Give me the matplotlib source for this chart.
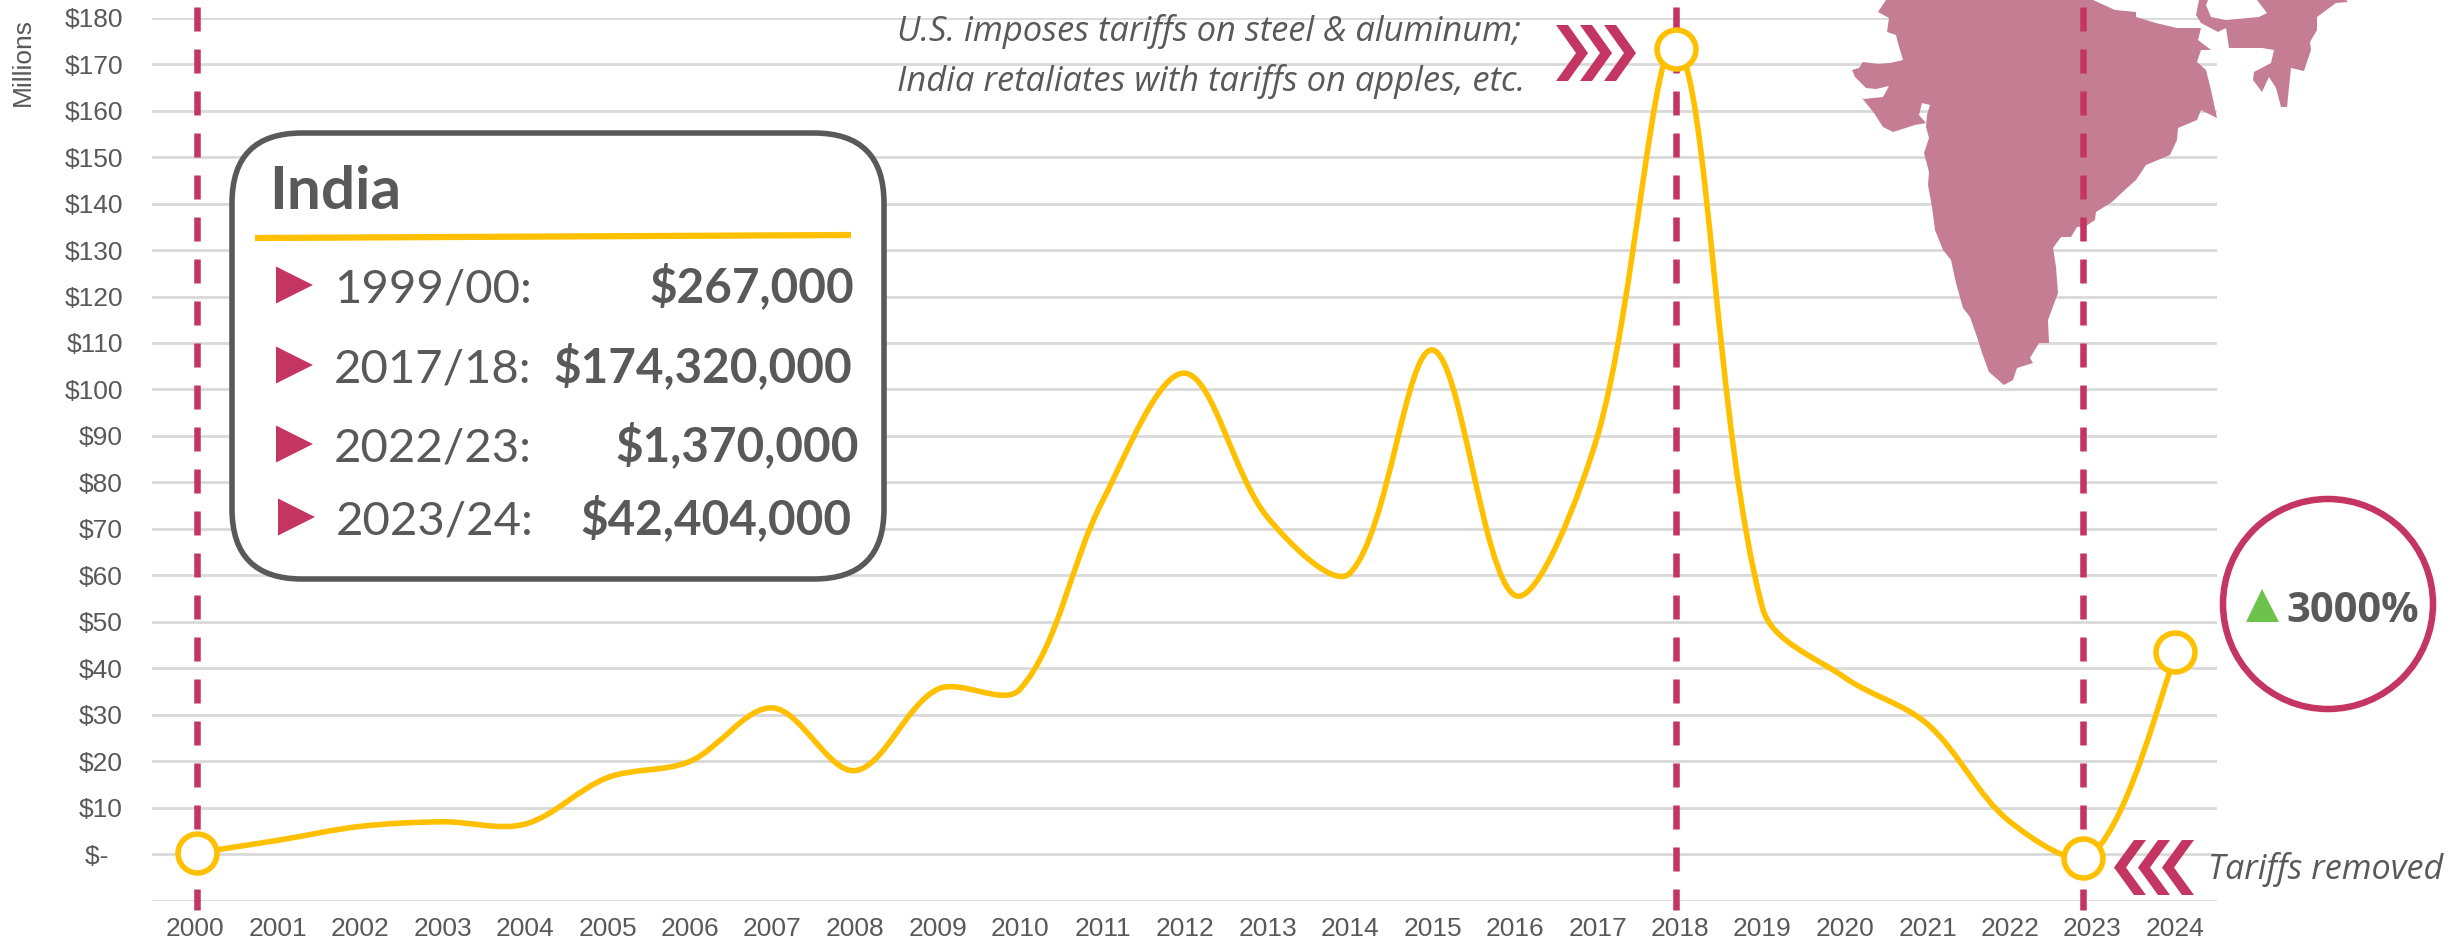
import matplotlib
matplotlib.use('Agg')
from matplotlib import pyplot as plt
from matplotlib.path import Path
from matplotlib.patches import PathPatch, FancyBboxPatch, Polygon, Circle
from matplotlib.transforms import Affine2D

years = list(range(2000, 2025))
line_years = [y if y != 2018 else 2017.96 for y in years]
values = [0.27, 3, 6, 7, 6.5, 16.5, 20, 31.5, 18, 35.5, 35.5, 76, 103.5, 72.5, 60.5, 108.5, 55.7, 90, 174, 53,
          38, 28, 7, 0, 42.4]
y_ticks = list(range(-10, 190, 10))
y_labels = ['', '$-  '] + [f'${v}' for v in range(10, 190, 10)]

marker_years = [2000.03, 2017.95, 2022.885, 2024]
marker_values = [0.2, 173.3, -0.8, 43.5]
event_years = [2000.03, 2017.95, 2022.885]

summary_periods = ['1999/00:', '2017/18:', '2022/23:', '2023/24:']
summary_amounts = ['$267,000', '$174,320,000', '$1,370,000', '$42,404,000']

# in its pixels
india_outline = [(1886, 0), (1878, 12), (1889, 18), (1887, 32), (1896, 35), (1898, 43), (1903, 60), (1890, 63),
                 (1878, 64), (1863, 62), (1859, 68), (1852, 70), (1855, 77), (1866, 88), (1876, 89), (1889, 86),
                 (1883, 97), (1864, 99), (1862, 98), (1874, 113), (1883, 127), (1893, 132), (1915, 125), (1926, 123),
                 (1919, 115), (1922, 103), (1930, 105), (1927, 115), (1926, 127), (1929, 138), (1924, 153), (1929, 172),
                 (1928, 185), (1932, 207), (1935, 230), (1943, 250), (1951, 260), (1956, 283), (1963, 308), (1970, 317),
                 (1977, 337), (1982, 353), (1989, 372), (2004, 385), (2013, 380), (2017, 368), (2033, 363), (2030, 358),
                 (2039, 343), (2049, 343), (2048, 320), (2058, 293), (2056, 267), (2053, 248), (2061, 237), (2071, 237),
                 (2077, 227), (2086, 226), (2095, 220), (2096, 212), (2112, 202), (2127, 188), (2136, 180), (2146, 165),
                 (2170, 155), (2177, 140), (2178, 128), (2197, 120), (2201, 110), (2217, 118), (2211, 90), (2206, 70),
                 (2197, 62), (2201, 50), (2211, 50), (2198, 40), (2201, 28), (2197, 28), (2177, 28), (2156, 23),
                 (2136, 17), (2136, 12), (2115, 10), (2093, 0)]
east_outline = [(2199, 0), (2196, 15), (2201, 23), (2218, 32), (2226, 28), (2229, 48), (2262, 48), (2274, 50),
                (2271, 63), (2254, 72), (2253, 80), (2262, 92), (2269, 77), (2276, 88), (2281, 107), (2287, 107),
                (2291, 68), (2304, 71), (2311, 50), (2310, 42), (2317, 30), (2317, 17), (2336, 3), (2348, 2),
                (2346, 0), (2257, 0), (2267, 13), (2259, 17), (2226, 20), (2211, 17), (2206, 5), (2208, 0)]

GOLD = '#FFC000'
CRIMSON = '#C43562'
MAP = '#C47D93'
GRID = '#D9D9D9'
TEXT = '#595959'
W, H = 2456, 947
DPI = 100


def smooth_path(xs, ys, x_scale, y_scale):
    # bezier handles sized by the on-screen length of each segment, like a spreadsheet's smoothed line
    n = len(xs)
    lengths = [((x_scale * (xs[i + 1] - xs[i])) ** 2 + (y_scale * (ys[i + 1] - ys[i])) ** 2) ** 0.5 for i in range(n - 1)]
    verts = [(xs[0], ys[0])]
    codes = [Path.MOVETO]
    for i in range(n - 1):
        a = max(i - 1, 0)
        d = min(i + 2, n - 1)
        before = lengths[i - 1] if i > 0 else lengths[i]
        after = lengths[i + 1] if i < n - 2 else lengths[i]
        w1 = lengths[i] / (before + lengths[i]) / 3
        w2 = lengths[i] / (lengths[i] + after) / 3
        verts.append((xs[i] + (xs[i + 1] - xs[a]) * w1, ys[i] + (ys[i + 1] - ys[a]) * w1))
        verts.append((xs[i + 1] - (xs[d] - xs[i]) * w2, ys[i + 1] - (ys[d] - ys[i]) * w2))
        verts.append((xs[i + 1], ys[i + 1]))
        codes += [Path.CURVE4] * 3
    return Path(verts, codes)


def chevrons(ax, left, top, bottom, step, width, thick, point_right, px):
    mid = (top + bottom) / 2
    for i in range(3):
        x = left + i * step
        if point_right:
            pts = [(x, top), (x + thick, top), (x + width, mid), (x + thick, bottom), (x, bottom), (x + width - thick, mid)]
        else:
            pts = [(x + width, top), (x + width - thick, top), (x, mid), (x + width - thick, bottom), (x + width, bottom),
                   (x + thick, mid)]
        ax.add_patch(Polygon(pts, closed=True, fc=CRIMSON, ec='none', transform=px, clip_on=False, zorder=6))


plt.rcParams['font.family'] = ['Liberation Sans']
plt.rcParams['lines.scale_dashes'] = False
fig = plt.figure(figsize=(W / DPI, H / DPI), dpi=DPI, facecolor='white')

y_top, y_bottom = 17.6, 900.8
x_left, x_right = 152, 2217
x0, per_year = 195, 82.5
ax = fig.add_axes([x_left / W, 1 - y_bottom / H, (x_right - x_left) / W, (y_bottom - y_top) / H])
ax.set_xlim(2000 - (x0 - x_left) / per_year, 2000 + (x_right - x0) / per_year)
ax.set_ylim(-10, 180)
ax.patch.set_visible(False)
for s in ax.spines.values():
    s.set_visible(False)

ax.set_yticks(y_ticks)
ax.set_yticklabels(y_labels)
ax.set_xticks(years)
ax.set_xticklabels([str(y) for y in years])
ax.tick_params(length=0, labelsize=19, labelcolor=TEXT)
ax.tick_params(axis='y', pad=21)
ax.tick_params(axis='x', pad=12)
ax.grid(axis='y', color=GRID, lw=2)
ax.set_axisbelow(True)

# pixels of the reference, y going down
px = Affine2D().scale(1, -1).translate(0, H)

ax.add_patch(Polygon(india_outline, closed=True, fc=MAP, ec='none', transform=px, clip_on=False, zorder=1.5))
ax.add_patch(Polygon(east_outline, closed=True, fc=MAP, ec='none', transform=px, clip_on=False, zorder=1.5))

for x in event_years:
    ax.plot([x, x], [182.2, -11.9], color=CRIMSON, lw=4.7, ls=(0, (17.28, 12.96)), dash_capstyle='butt',
            clip_on=False, zorder=2)

ax.add_patch(PathPatch(smooth_path(line_years, values, per_year, (y_bottom - y_top) / 190), fc='none', ec=GOLD, lw=4,
                       capstyle='round', clip_on=False, zorder=3))
ax.plot(marker_years, marker_values, ls='none', marker='o', ms=28, mfc='white', mec=GOLD, mew=4, clip_on=False, zorder=4)

# summary box
ax.add_patch(FancyBboxPatch((232 + 70, 133 + 70), 652 - 140, 446 - 140, boxstyle='round,pad=70,rounding_size=70',
                            fc='white', ec=TEXT, lw=4, transform=px, clip_on=False, zorder=5, mutation_aspect=1))
ax.plot([255, 851], [238, 235], color=GOLD, lw=4.5, transform=px, solid_capstyle='butt', clip_on=False, zorder=6)
ax.text(269, 209, 'India', color=TEXT, family='Lato', weight='bold', size=43.5, transform=px, va='baseline', zorder=6)

row_y = [285, 365, 444, 517]
row_x = [276, 276, 276, 278]
amount_right = [854, 852, 859, 852]
for i in range(4):
    y, x = row_y[i], row_x[i]
    ax.add_patch(Polygon([(x, y - 18.5), (x + 37, y), (x, y + 18.5)], closed=True, fc=CRIMSON, ec='none',
                         transform=px, clip_on=False, zorder=6))
    ax.text(x + 58, y + 17, summary_periods[i], color=TEXT, family='Lato', size=34, transform=px, va='baseline', zorder=6)
    ax.text(amount_right[i], y + 17, summary_amounts[i], color=TEXT, family='Lato', weight='bold', size=34.3,
            transform=px, ha='right', va='baseline', zorder=6)

ax.text(23, 62, 'Millions', color=TEXT, size=19, rotation=90, transform=px, ha='center', va='center')

ax.text(897, 41, 'U.S. imposes tariffs on steel & aluminum;', color=TEXT, family='Open Sans', style='italic', size=24.8,
        transform=px, va='baseline', zorder=6)
ax.text(897, 91, 'India retaliates with tariffs on apples, etc.', color=TEXT, family='Open Sans', style='italic', size=24.8,
        transform=px, va='baseline', zorder=6)
chevrons(ax, 1556, 25, 81, 24, 32, 12, True, px)
chevrons(ax, 2114, 840, 895, 24, 32, 12, False, px)
ax.text(2208, 879, 'Tariffs removed', color=TEXT, family='Open Sans', style='italic', size=24.6, transform=px,
        va='baseline', zorder=6)

# change callout
ax.add_patch(Circle((2328, 604), 105, fc='white', ec=CRIMSON, lw=4.7, transform=px, clip_on=False, zorder=5))
ax.add_patch(Polygon([(2246, 622), (2262, 589), (2279, 622)], closed=True, fc='#6CC24A', ec='none', transform=px,
                     clip_on=False, zorder=6))
ax.text(2286, 622, '3000%', color=TEXT, family='Open Sans', weight='bold', size=30, transform=px, va='baseline', zorder=6)

fig.savefig('out.png', dpi=DPI)
